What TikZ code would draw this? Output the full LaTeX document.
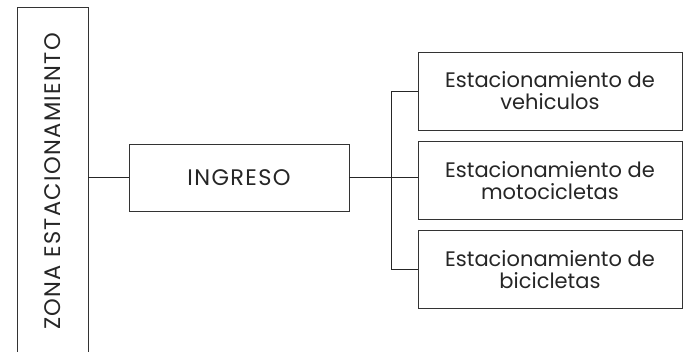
\documentclass[tikz,border=0pt]{standalone}
\usepackage{fontspec}
\setmainfont{Poppins}
\newfontfamily\capsfont[LetterSpace=6]{Poppins}
\begin{document}
\begin{tikzpicture}[x=1pt,y=-1pt,
  box/.style={draw=black!80, line width=0.9pt, inner sep=0pt, align=center,
    font=\fontsize{21}{22}\selectfont, text=black!85},
  capsbox/.style={box, font=\fontsize{22.5}{24}\selectfont\capsfont},
  conn/.style={draw=black!85, line width=0.8pt}]
\useasboundingbox (0,0) rectangle (686,352);
\clip (0,0) rectangle (686,352);
\node[capsbox, rotate=90, minimum width=349pt, minimum height=71pt] (zona) at (52.5,181.5) {ZONA ESTACIONAMIENTO};
\node[capsbox, minimum width=220pt, minimum height=67pt] (ingreso) at (239,177.5) {INGRESO};
\node[box, minimum width=264pt, minimum height=78pt] (veh) at (550,91) {Estacionamiento de\\vehiculos};
\node[box, minimum width=264pt, minimum height=78pt] (moto) at (550,180.5) {Estacionamiento de\\motocicletas};
\node[box, minimum width=264pt, minimum height=78pt] (bici) at (550,269.5) {Estacionamiento de\\bicicletas};
\draw[conn] (zona.south |- ingreso.west) -- (ingreso.west);
\draw[conn] (ingreso.east) -- (ingreso.east -| moto.west);
\draw[conn] (veh.west) -- ++(-26,0) coordinate (bus) |- (bici.west);
\end{tikzpicture}
\end{document}
